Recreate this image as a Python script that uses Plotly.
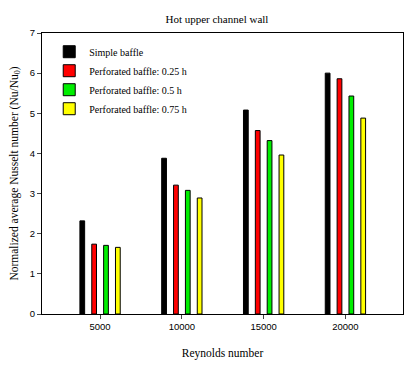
import plotly.graph_objects as go

reynolds = [5000, 10000, 15000, 20000]
tick_text = ["5000", "10000", "15000", "20000"]
simple = [2.32, 3.88, 5.08, 6.0]
perf_025 = [1.74, 3.21, 4.57, 5.86]
perf_05 = [1.71, 3.08, 4.32, 5.43]
perf_075 = [1.66, 2.89, 3.96, 4.88]

names = ["Simple baffle", "Perforated baffle: 0.25 h",
         "Perforated baffle: 0.5 h", "Perforated baffle: 0.75 h"]
colors = ["#000000", "#ff0000", "#00ee00", "#ffff00"]

fig = go.Figure()
for vals, nm, c in zip([simple, perf_025, perf_05, perf_075], names, colors):
    fig.add_trace(go.Bar(x=reynolds, y=vals, name=nm, marker_color=c,
                         marker_line=dict(color="black", width=1)))

serif = "Times New Roman"
sans = "Arial"

# page body has an 8px margin, so the figure is a bit smaller than the window
fig.update_layout(
    width=401, height=353,
    margin=dict(l=34, r=6, t=25, b=47),
    paper_bgcolor="white", plot_bgcolor="white",
    barmode="group", bargap=0.42, bargroupgap=0.6,
    title=dict(text="Hot upper channel wall", x=0.521, xanchor="center",
               y=0.968, yanchor="middle", font=dict(family=serif, size=11, color="black")),
    showlegend=True,
    legend=dict(x=0.02, y=0.985, xanchor="left", yanchor="top",
                bgcolor="rgba(0,0,0,0)", font=dict(family=serif, size=10, color="black"),
                tracegroupgap=0),
    xaxis=dict(range=[1450, 23520], tickvals=reynolds, ticktext=tick_text,
               ticks="outside", ticklen=4, automargin=False,
               tickfont=dict(family=sans, size=9.5, color="black"),
               showline=True, linecolor="black", linewidth=1, mirror=True,
               showgrid=False, zeroline=False,
               title=dict(text="Reynolds number", font=dict(family=serif, size=11.5, color="black"),
                          standoff=17)),
    yaxis=dict(range=[0, 7], dtick=1, ticks="outside", ticklen=4, automargin=False,
               tickfont=dict(family=sans, size=9.5, color="black"),
               showline=True, linecolor="black", linewidth=1, mirror=True,
               showgrid=False, zeroline=False,
               title=dict(text="Normalized average Nusselt number (Nu/Nu<sub>0</sub>)",
                          font=dict(family=serif, size=11.5, color="black"), standoff=11)),
)

fig.write_html("out.html")
